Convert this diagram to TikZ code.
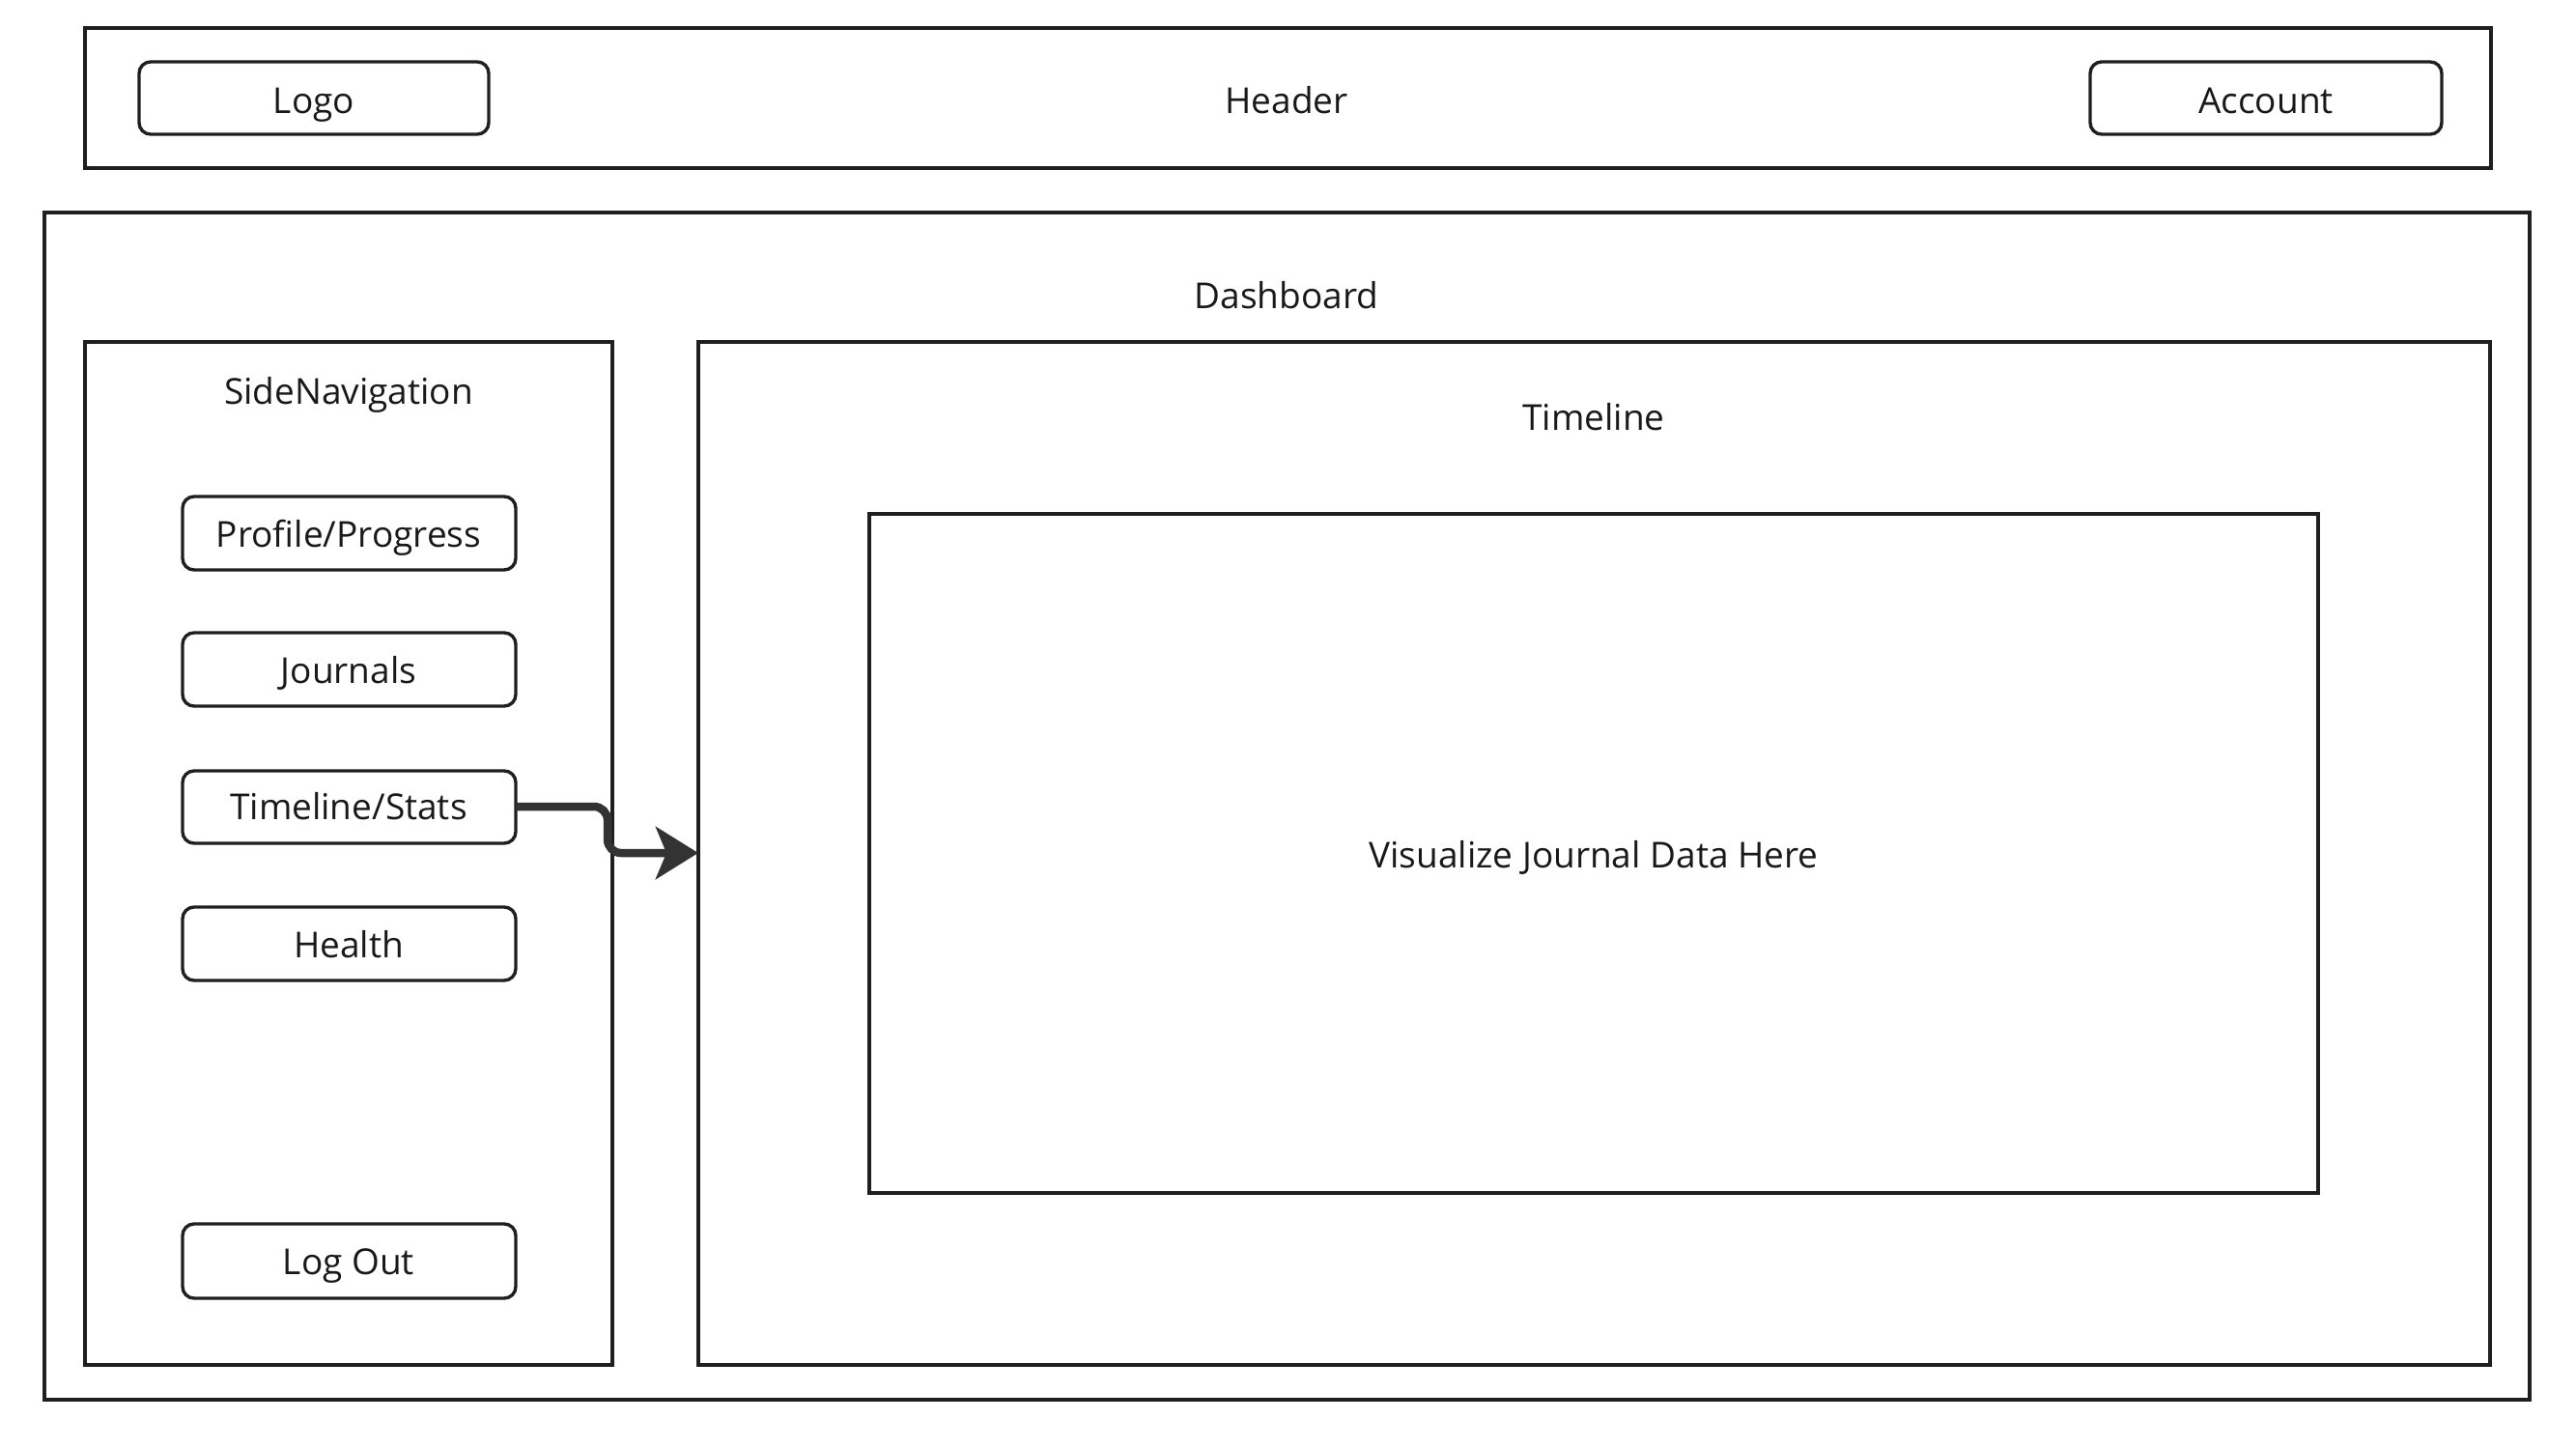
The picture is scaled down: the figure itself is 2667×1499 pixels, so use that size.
\documentclass[tikz,border=0pt]{standalone}
\usepackage{fontspec}
\setmainfont{Open Sans}
\usetikzlibrary{arrows.meta}
\begin{document}
\begin{tikzpicture}[x=1pt,y=-1pt,
  frame/.style={draw=black!88,line width=3.4pt},
  btn/.style={draw=black!88,line width=3.4pt,rounded corners=12pt},
  lbl/.style={font=\fontsize{37}{44}\selectfont,text=black!90,inner sep=0pt,anchor=base},
  conn/.style={draw=black!80,line width=8.5pt,rounded corners=14pt,-{Stealth[length=44pt,width=54pt,inset=11pt]}}]
\useasboundingbox (0,0) rectangle (2667,1499);
% header
\draw[frame] (88,29) rectangle (2579,174);
\node[lbl] (header) at (1332,117) {Header};
\draw[btn] (144,64) rectangle (506,139);
\node[lbl] (logo) at (325,117) {Logo};
\draw[btn] (2164,64) rectangle (2528,139);
\node[lbl] (account) at (2346,117) {Account};
% dashboard
\draw[frame] (46,220) rectangle (2619,1449);
\node[lbl] (dash) at (1332,319) {Dashboard};
% side navigation
\draw[frame] (88,354) rectangle (634,1413);
\node[lbl] (sidenav) at (361,418) {SideNavigation};
\draw[btn] (189,514) rectangle (534,590);
\node[lbl] at (361,566) {Profile/Progress};
\draw[btn] (189,655) rectangle (534,731);
\node[lbl] at (361,707) {Journals};
\draw[btn] (189,798) rectangle (534,873);
\node[lbl] at (361,848) {Timeline/Stats};
\coordinate (tsE) at (534,835);
\draw[btn] (189,939) rectangle (534,1015);
\node[lbl] at (361,991) {Health};
\draw[btn] (189,1267) rectangle (534,1344);
\node[lbl] at (361,1319) {Log Out};
% timeline
\draw[frame] (723,354) rectangle (2578,1413);
\node[lbl] (timeline) at (1650,445) {Timeline};
\coordinate (tlW) at (723,883);
\draw[frame] (900,532) rectangle (2400,1235);
\node[lbl] (vis) at (1650,898) {Visualize Journal Data Here};
% connector
\draw[conn] (tsE) -- (629,835) -- (629,883) -- (tlW);
\end{tikzpicture}
\end{document}
